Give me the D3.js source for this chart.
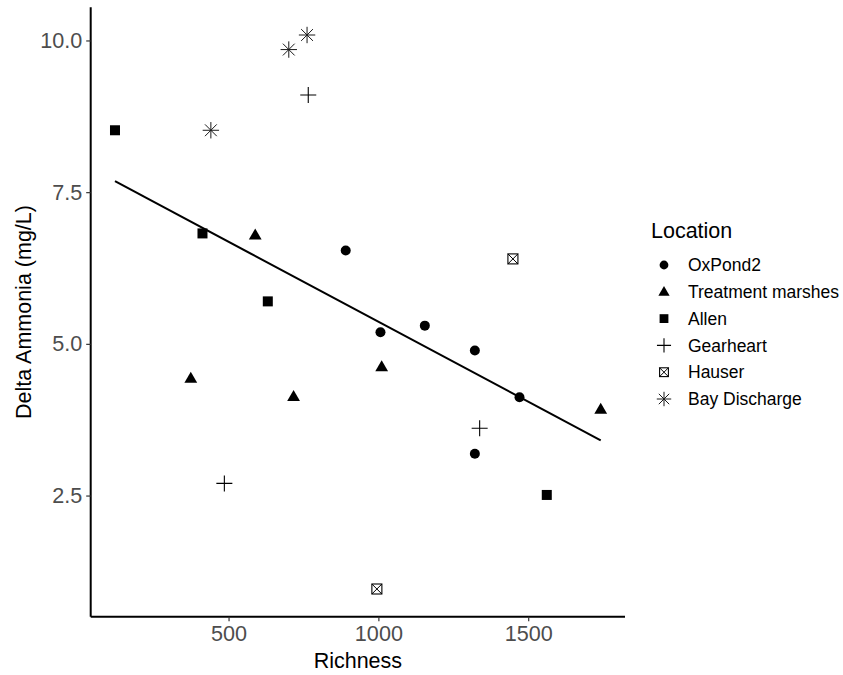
<!DOCTYPE html>
<html>
<head>
<meta charset="utf-8">
<script src="https://cdn.jsdelivr.net/npm/d3@7"></script>
<style>
  body { margin: 0; background: #fff; }
  svg { display: block; font-family: "Liberation Sans", Arial, sans-serif; }
</style>
</head>
<body>
<svg id="chart" width="843" height="675"></svg>
<script>
// Locations and their richness / delta ammonia measurements
const locations = ["OxPond2", "Treatment marshes", "Allen", "Gearheart", "Hauser", "Bay Discharge"];

const oxPondRichness = [891, 1007, 1155, 1322, 1471, 1322];
const oxPondAmmonia  = [6.54, 5.19, 5.30, 4.89, 4.12, 3.19];

const marshRichness = [589, 374, 717, 1011, 1742];
const marshAmmonia  = [6.79, 4.43, 4.13, 4.62, 3.92];

const allenRichness = [121, 413, 631, 1562];
const allenAmmonia  = [8.52, 6.82, 5.70, 2.51];

const gearheartRichness = [766, 486, 1338];
const gearheartAmmonia  = [9.10, 2.70, 3.61];

const hauserRichness = [1449, 995];
const hauserAmmonia  = [6.40, 0.96];

const bayRichness = [441, 701, 762];
const bayAmmonia  = [8.52, 9.85, 10.09];

// Fitted trend line (richness, predicted ammonia)
const fitRichness = [121, 1742];
const fitAmmonia  = [7.68, 3.41];

const xTicks = [500, 1000, 1500];
const yTicks = [2.5, 5.0, 7.5, 10.0];

const series = [
  { name: locations[0], x: oxPondRichness, y: oxPondAmmonia, shape: "circle" },
  { name: locations[1], x: marshRichness, y: marshAmmonia, shape: "triangle" },
  { name: locations[2], x: allenRichness, y: allenAmmonia, shape: "square" },
  { name: locations[3], x: gearheartRichness, y: gearheartAmmonia, shape: "plus" },
  { name: locations[4], x: hauserRichness, y: hauserAmmonia, shape: "boxcross" },
  { name: locations[5], x: bayRichness, y: bayAmmonia, shape: "asterisk" }
];

const svg = d3.select("#chart");
const panel = { left: 90.7, right: 625, top: 7.3, bottom: 616.7 };

// Domains padded by 5% of the data range on each side
const allX = series.flatMap(s => s.x);
const allY = series.flatMap(s => s.y);
const xr = d3.extent(allX), yr = d3.extent(allY);
const xPad = (xr[1] - xr[0]) * 0.05, yPad = (yr[1] - yr[0]) * 0.05;

const x = d3.scaleLinear().domain([xr[0] - xPad, xr[1] + xPad]).range([panel.left, panel.right]);
const y = d3.scaleLinear().domain([yr[0] - yPad, yr[1] + yPad]).range([panel.bottom, panel.top]);

// Axes
const xAxis = svg.append("g")
  .attr("transform", `translate(0,${panel.bottom})`)
  .call(d3.axisBottom(x).tickValues(xTicks).tickSize(4.5).tickSizeOuter(0).tickPadding(4).tickFormat(d3.format("d")));
const yAxis = svg.append("g")
  .attr("transform", `translate(${panel.left},0)`)
  .call(d3.axisLeft(y).tickValues(yTicks).tickSize(4.5).tickSizeOuter(0).tickPadding(4).tickFormat(d3.format(".1f")));

[xAxis, yAxis].forEach(g => {
  g.select(".domain").attr("stroke", "#000").attr("stroke-width", 2);
  g.selectAll(".tick line").attr("stroke", "#333").attr("stroke-width", 1.2);
  g.selectAll(".tick text").attr("fill", "#4d4d4d").style("font-size", "21.6px")
    .style("font-family", '"Liberation Sans", Arial, sans-serif');
});
xAxis.select(".domain").attr("d", `M${panel.left},0H${panel.right}`);
yAxis.select(".domain").attr("d", `M0,${panel.top}V${panel.bottom}`);

// Axis titles
svg.append("text")
  .attr("x", (panel.left + panel.right) / 2).attr("y", 668)
  .attr("text-anchor", "middle").attr("font-size", 21.5).attr("fill", "#000")
  .text("Richness");
svg.append("text")
  .attr("transform", `translate(31,${(panel.top + panel.bottom) / 2}) rotate(-90)`)
  .attr("text-anchor", "middle").attr("font-size", 21.5).attr("fill", "#000")
  .text("Delta Ammonia (mg/L)");

// Trend line
const fitPts = fitRichness.map((d, i) => [d, fitAmmonia[i]]);
svg.append("path")
  .attr("d", d3.line().x(d => x(d[0])).y(d => y(d[1]))(fitPts))
  .attr("fill", "none").attr("stroke", "#000").attr("stroke-width", 2);

// Marker drawing
function drawShape(g, shape, k) {
  if (shape === "circle") {
    g.append("circle").attr("r", 5 * k).attr("fill", "#000");
  } else if (shape === "triangle") {
    const s = 6.4 * k;
    g.append("path").attr("d", `M0,${-s * 1.05}L${s},${s * 0.68}L${-s},${s * 0.68}Z`).attr("fill", "#000");
  } else if (shape === "square") {
    const s = 5 * k;
    g.append("rect").attr("x", -s).attr("y", -s).attr("width", 2 * s).attr("height", 2 * s).attr("fill", "#000");
  } else if (shape === "plus") {
    const s = 8 * k;
    g.append("path").attr("d", `M${-s},0H${s}M0,${-s}V${s}`).attr("stroke", "#000").attr("stroke-width", 1.1).attr("fill", "none");
  } else if (shape === "boxcross") {
    const s = 5 * k;
    g.append("rect").attr("x", -s).attr("y", -s).attr("width", 2 * s).attr("height", 2 * s)
      .attr("fill", "none").attr("stroke", "#000").attr("stroke-width", 1.1);
    g.append("path").attr("d", `M${-s},${-s}L${s},${s}M${-s},${s}L${s},${-s}`).attr("stroke", "#000").attr("stroke-width", 1);
  } else if (shape === "asterisk") {
    const s = 8.2 * k, d = s * 0.72;
    g.append("path")
      .attr("d", `M${-s},0H${s}M0,${-s}V${s}M${-d},${-d}L${d},${d}M${-d},${d}L${d},${-d}`)
      .attr("stroke", "#1a1a1a").attr("stroke-width", 1).attr("fill", "none");
  }
}

// Points
const pts = svg.append("g");
series.forEach(s => {
  s.x.forEach((xv, i) => {
    const g = pts.append("g").attr("transform", `translate(${x(xv)},${y(s.y[i])})`);
    drawShape(g, s.shape, 1);
  });
});

// Legend
const legend = svg.append("g");
legend.append("text").attr("x", 651).attr("y", 237.5).attr("font-size", 21.5).attr("fill", "#000").text("Location");
series.forEach((s, i) => {
  const cy = 265 + i * 26.8;
  const g = legend.append("g").attr("transform", `translate(664,${cy})`);
  drawShape(g, s.shape, 0.88);
  legend.append("text").attr("x", 688).attr("y", cy + 6.2).attr("font-size", 17.5).attr("fill", "#000").text(s.name);
});
</script>
</body>
</html>
